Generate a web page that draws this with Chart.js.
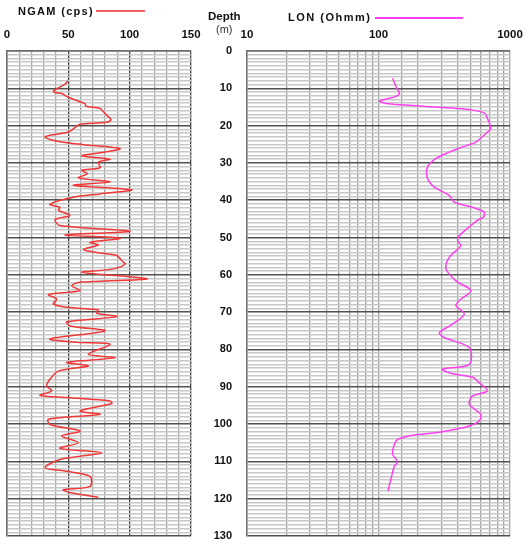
<!DOCTYPE html>
<html><head><meta charset="utf-8">
<script src="https://cdn.jsdelivr.net/npm/chart.js@4"></script>
<style>
html,body{margin:0;padding:0;background:#fff;overflow:hidden;width:526px;height:539px;}
#c1{position:absolute;left:0;top:0;}
#c2{position:absolute;left:200px;top:0;}
.t{position:absolute;font-family:"Liberation Sans",Arial,sans-serif;color:#111;white-space:nowrap;line-height:1;}
.ln{position:absolute;height:2px;}
</style></head><body>
<canvas id="c2" width="326" height="539"></canvas>
<canvas id="c1" width="210" height="539"></canvas>
<div class="t" style="left:18px;top:6px;font-weight:bold;font-size:11px;letter-spacing:1.3px">NGAM (cps)</div>
<div class="ln" style="left:96px;top:10px;width:49px;background:#f06060"></div>
<div class="t" style="left:208px;top:11px;font-weight:bold;font-size:11.5px">Depth</div>
<div class="t" style="left:216px;top:24px;font-size:11px;color:#333">(m)</div>
<div class="t" style="left:288px;top:12px;font-weight:bold;font-size:11px;letter-spacing:1.5px">LON (Ohmm)</div>
<div class="ln" style="left:375px;top:17px;width:88px;background:#ff40f0"></div>
<script>
const ngamDepth = [8.0,8.9,9.9,10.75,11.1,11.4,12.4,13.6,14.1,14.8,15.4,16.3,17.2,18.4,19.1,19.6,20.2,21.2,21.7,22.3,23.0,23.7,24.6,25.1,26.2,27.3,28.1,29.0,29.8,31.3,32.0,32.9,34.0,35.1,36.0,37.2,38.3,39.2,41.1,41.9,42.7,44.1,45.2,46.8,48.3,49.3,50.2,51.3,52.0,53.2,54.0,54.8,56.2,57.1,58.4,59.3,60.2,61.1,62.0,62.9,64.2,64.7,65.3,66.5,67.8,68.7,69.4,70.3,71.2,72.6,73.7,75.0,77.2,78.1,78.6,81.3,82.2,83.5,84.4,85.8,88.0,89.8,91.1,92.3,92.9,93.8,94.5,96.5,97.4,98.7,100.1,101.9,103.2,105.0,106.5,107.7,109.5,111.7,112.6,114.0,116.7,117.6,118.5,119.6];
const ngamValue = [49.5,47.3,41.9,37.8,39,44.6,50,59.5,63.6,64.4,75.9,78.6,81.3,84.8,81.3,59.5,56.8,52.8,50,40.5,31,35,48.7,62.2,92.2,75.9,60.9,84,74.5,75.9,60.9,65.5,58.2,84,54.1,101.7,75.9,54.1,35,43.2,42,51.4,39.2,43.2,100.3,47.3,92.2,67.7,74.5,62.2,73.2,89.5,93.6,96.3,86.7,60.9,89.5,114,59.5,52.8,59.5,48.7,33.7,40.5,37.8,48.7,74.5,73.2,89.5,48.7,51.4,80,35,56.8,84,66.3,88.1,48.7,66.3,41.9,35,32.4,36.5,26.9,48.7,84,85.4,59.5,75.9,33.7,35,59.5,44.6,58.2,43.2,77.3,43.2,31,47.3,67.7,67.7,45.9,52.8,74.5];
const lonDepth = [7.3,9.6,11.4,12.3,13.4,14.1,14.5,15.2,15.7,16.6,18.1,20.8,22.1,24.4,25.7,27.1,28.8,31.1,34.2,36.5,38.7,40.5,41.9,43.2,44.5,45.4,49.5,50.8,52.2,55.3,58.4,61.6,64.2,66.9,68.3,70.5,73.2,75.5,76.8,79.5,84.0,85.3,86.5,87.4,88.9,91.1,92.5,94.7,97.4,99.2,100.5,102.2,103.0,104.1,105.5,108.1,110.1,111.3,114.4,118.0];
const lonValue = [128,136,144,132,102,114,162,326,490,636,674,714,655,550,435,345,274,236,236,266,345,377,518,636,630,565,411,399,423,345,326,388,503,411,388,449,366,290,316,490,490,307,366,518,582,674,518,490,600,582,490,290,182,140,132,128,140,132,125,118];
const ngamTicks = [0,50,100,150];
const lonTicks = [10,100,1000];
const depthTicks = [0,10,20,30,40,50,60,70,80,90,100,110,120,130];

const tickFont = {family:'"Liberation Sans", Arial, sans-serif', weight:'bold', size:11.5};
function hGrid() {
  return {
    drawTicks:false,
    color: c => (c.tick && depthTicks.includes(c.tick.value)) ? '#505050' : '#c8c8c8',
    lineWidth: c => (c.tick && depthTicks.includes(c.tick.value)) ? 1.6 : 1.5
  };
}
function depthAxis(width, labels) {
  return {
    type:'linear', reverse:true, min:0, max:130,
    ticks:{display:labels, stepSize:1, maxTicksLimit:200, autoSkip:false, padding:15, font:{...tickFont, size:11}, color:'#111',
      callback: v => depthTicks.includes(v) ? String(v) : ''},
    grid:hGrid(),
    border:{display:true, color:'#707070', width:1.5},
    afterFit: s => { s.width = width; s.paddingTop = 0; s.paddingBottom = 0; s.paddingLeft = 0; s.paddingRight = 0; }
  };
}
function fitX(s) { s.height = 51; s.paddingLeft = 0; s.paddingRight = 0; s.paddingTop = 0; s.paddingBottom = 0; }
const noPlug = {legend:{display:false}, tooltip:{enabled:false}};

new Chart(document.getElementById('c1'), {
  type:'scatter',
  data:{datasets:[{data: ngamDepth.map((d,i)=>({x:ngamValue[i], y:d})), showLine:true, borderColor:'#f03838', borderWidth:1.5, pointRadius:0, tension:0.3}]},
  options:{responsive:false, animation:false, layout:{padding:{left:0,right:19,top:0,bottom:3}}, plugins:noPlug,
    scales:{
      x:{type:'linear', position:'top', min:0, max:150,
        ticks:{stepSize:10, autoSkip:false, maxRotation:0, minRotation:0, padding:9, font:tickFont, color:'#111',
          callback: v => ngamTicks.includes(v) ? String(v) : ''},
        grid:{drawTicks:false, color: c => (c.tick && c.tick.value % 50 === 0) ? '#404040' : '#a8a8a8', lineWidth:1.3},
        border:{display:true, color:'#707070', width:1.5},
        afterFit: fitX
      },
      y: depthAxis(7, false)
    }
  }
});

new Chart(document.getElementById('c2'), {
  type:'scatter',
  data:{datasets:[{data: lonDepth.map((d,i)=>({x:lonValue[i], y:d})), showLine:true, borderColor:'#ff40f0', borderWidth:1.5, pointRadius:0, tension:0.3}]},
  options:{responsive:false, animation:false, layout:{padding:{left:0,right:16,top:0,bottom:3}}, plugins:noPlug,
    scales:{
      x:{type:'logarithmic', position:'top', min:10, max:1000,
        ticks:{autoSkip:false, maxRotation:0, minRotation:0, padding:9, font:tickFont, color:'#111',
          callback: v => lonTicks.includes(v) ? String(v) : ''},
        grid:{drawTicks:false, color:'#a0a0a0', lineWidth:1.3},
        border:{display:true, color:'#707070', width:1.5},
        afterFit: fitX
      },
      y: depthAxis(47, true)
    }
  }
});
</script>
</body></html>
